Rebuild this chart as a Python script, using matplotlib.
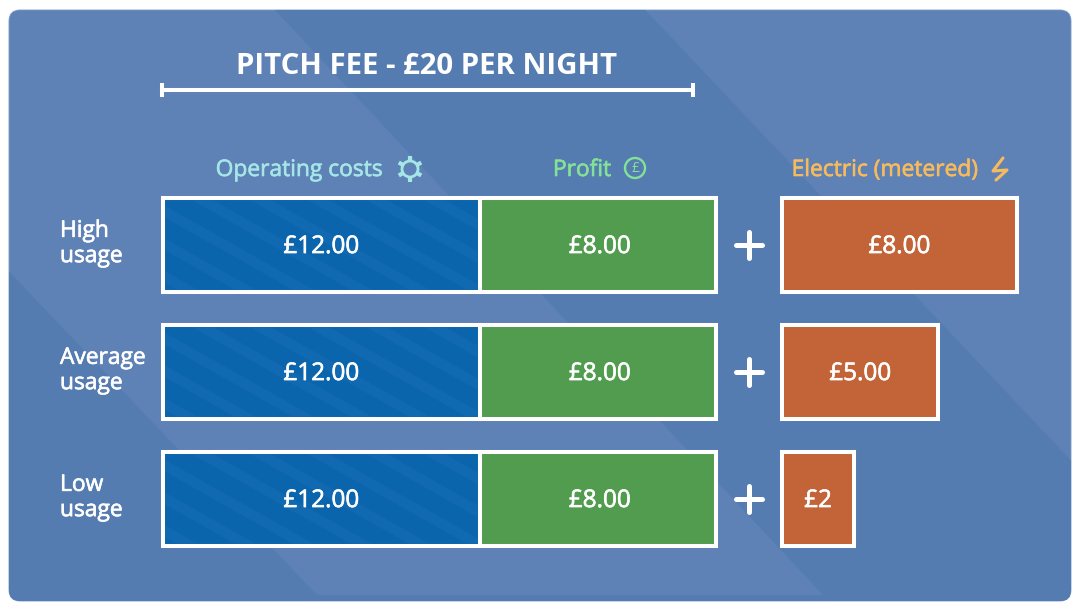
import matplotlib
matplotlib.use('Agg')
import matplotlib.pyplot as plt
import matplotlib.patheffects as pe
from matplotlib.patches import FancyBboxPatch, Polygon, Circle
from matplotlib.markers import MarkerStyle

plt.rcParams['font.family'] = ['Open Sans', 'DejaVu Sans']
plt.rcParams['font.weight'] = 'medium'

usage = ['High\nusage', 'Average\nusage', 'Low\nusage']
# bar lengths as drawn (the picture isn't quite to scale), in pounds-ish units
operating = [10.8, 10.8, 10.8]
profit = [8.04, 8.04, 8.04]
electric = [7.98, 5.31, 2.45]
operating_labels = ['£12.00', '£12.00', '£12.00']
profit_labels = ['£8.00', '£8.00', '£8.00']
electric_labels = ['£8.00', '£5.00', '£2']

PX = 29.4  # pixels per unit
ROW = 127  # pixels per row
electric_start = (782 - 162.5) / PX


def thicken(txt, color):
    # reference font is a little heavier than Open Sans regular
    txt.set_path_effects([pe.withStroke(linewidth=0.45, foreground=color)])


fig = plt.figure(figsize=(10.8, 6.1), dpi=100, facecolor='white')

# background layer, in pixels
bg = fig.add_axes([0, 0, 1, 1])
bg.set_xlim(0, 1080)
bg.set_ylim(610, 0)
bg.axis('off')

panel = FancyBboxPatch((9, 10), 1062, 591, boxstyle='round,pad=0,rounding_size=11',
                       fc='#5f82b6', ec='#7896c4', lw=0.6)
bg.add_patch(panel)
dark_bands = [
    [(265, 0), (636, 0), (1200, 597), (1200, 620), (840, 620), (823, 595), (274, 9)],
    [(0, 262), (317, 595), (1200, 595), (1200, 620), (0, 620)],
]
for pts in dark_bands:
    band = Polygon(pts, closed=True, fc='#557cb1', ec='none')
    bg.add_patch(band)
    band.set_clip_path(panel)

bg.text(427, 66, 'PITCH FEE - £20 PER NIGHT', color='white', fontsize=21.2,
        fontweight='bold', ha='center', va='center')
bg.plot([162, 693], [90, 90], color='white', lw=2.9, solid_capstyle='butt')
bg.plot([162, 162], [83, 97], color='white', lw=2.9, solid_capstyle='butt')
bg.plot([693, 693], [83, 97], color='white', lw=2.9, solid_capstyle='butt')

for x, name, col in [(299, 'Operating costs', '#a5e6e6'), (582, 'Profit', '#84e295'),
                     (885, 'Electric (metered)', '#f7bb5c')]:
    thicken(bg.text(x, 170, name, color=col, fontsize=16.4, ha='center', va='center'), col)

# gear
bg.add_patch(Circle((410, 169), 8, fc='none', ec='#a5e6e6', lw=2))
for dx, dy in [(0, -11), (0, 11), (9.5, -5.5), (-9.5, -5.5), (9.5, 5.5), (-9.5, 5.5)]:
    bg.plot([410 + dx * 0.75, 410 + dx * 1.18], [169 + dy * 0.75, 169 + dy * 1.18],
            color='#a5e6e6', lw=3, solid_capstyle='butt')
# pound coin
bg.add_patch(Circle((635, 168), 10, fc='none', ec='#84e295', lw=1.7))
bg.text(635, 169, '£', color='#84e295', fontsize=10, ha='center', va='center')
# bolt
bg.plot([1003, 993, 1007, 996], [158, 171, 170, 180], color='#f7bb5c', lw=2.2,
        solid_capstyle='round', solid_joinstyle='round')

# bars, in data units
ax = fig.add_axes([0, 0, 1, 1], zorder=2)
ax.patch.set_alpha(0)
ax.axis('off')
ax.set_xlim(-162.5 / PX, (1080 - 162.5) / PX)
ax.set_ylim((610 - 245) / ROW, -245 / ROW)

rows = range(len(usage))
blue = ax.barh(rows, operating, height=0.748, color='#0b65ad', edgecolor='white', linewidth=2.9)
green = ax.barh(rows, profit, left=operating, height=0.748, color='#529c4f', edgecolor='white', linewidth=2.9)
orange = ax.barh(rows, electric, left=electric_start, height=0.748, color='#c26338', edgecolor='white', linewidth=2.9)

# faint stripes on the blue bars
for rect in blue:
    x0 = rect.get_x() * PX + 162.5
    x1 = x0 + rect.get_width() * PX
    ymid = (rect.get_y() + rect.get_height() / 2) * ROW + 245
    inner = Polygon([(x0 + 2, ymid - 45), (x1 - 2, ymid - 45), (x1 - 2, ymid + 45), (x0 + 2, ymid + 45)],
                    closed=True, transform=bg.transData)
    for k in range(-4, 7):
        sx = x0 - 34 + k * 58
        stripe = Polygon([(sx, ymid - 48), (sx + 21, ymid - 48), (sx + 191, ymid + 48), (sx + 170, ymid + 48)],
                         closed=True, fc='#1069b1', ec='none', transform=bg.transData, zorder=1.5)
        ax.add_patch(stripe)
        stripe.set_clip_path(inner)

label_font = dict(color='white', ha='center', va='center', fontsize=17.5, zorder=3)
plus_x = (749 - 162.5) / PX
plus = MarkerStyle('+', capstyle='round')
for i in rows:
    thicken(ax.text(operating[i] / 2, i + 0.016, operating_labels[i], **label_font), 'white')
    thicken(ax.text(operating[i] + profit[i] / 2 + 0.05, i + 0.016, profit_labels[i], **label_font), 'white')
    thicken(ax.text(electric_start + electric[i] / 2, i + 0.016, electric_labels[i], **label_font), 'white')
    ax.plot(plus_x, i, marker=plus, ms=19, mew=3.6, color='white')
    thicken(ax.text(-102.5 / PX, i - 0.012, usage[i], color='white', fontsize=16.4, ha='left', va='center',
                    linespacing=1.07), 'white')

fig.savefig('out.png', dpi=100, facecolor='white')
